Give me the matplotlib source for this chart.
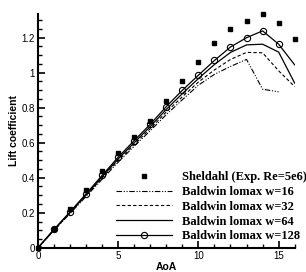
import matplotlib
matplotlib.use("Agg")
import matplotlib.pyplot as plt
from matplotlib.ticker import MultipleLocator, FuncFormatter

aoa = list(range(0, 17))
exp_cl = [0, 0.11, 0.22, 0.33, 0.44, 0.54, 0.63, 0.725, 0.836, 0.954, 1.063, 1.168,
          1.246, 1.294, 1.335, 1.284, 1.19]
bl128 = [0, 0.105, 0.205, 0.308, 0.413, 0.517, 0.612, 0.705, 0.806, 0.899, 0.985, 1.069,
         1.146, 1.199, 1.238, 1.162, 1.044]
bl64 = [0, 0.103, 0.202, 0.303, 0.405, 0.507, 0.600, 0.692, 0.790, 0.880, 0.966, 1.046,
        1.115, 1.158, 1.162, 1.117, 0.94]
bl32 = [0, 0.101, 0.199, 0.298, 0.398, 0.498, 0.590, 0.680, 0.775, 0.862, 0.946, 1.015,
        1.075, 1.115, 1.113, 1.01, 0.92]
aoa16 = list(range(0, 16))
bl16 = [0, 0.099, 0.196, 0.293, 0.391, 0.489, 0.580, 0.668, 0.760, 0.845, 0.928, 0.99,
        1.035, 1.075, 0.905, 0.89]

fig = plt.figure(figsize=(3.06, 2.72), dpi=100)
ax = fig.add_axes([0.124, 0.089, 0.839, 0.86])

ax.plot(aoa, exp_cl, 's', color='black', markersize=3, clip_on=False,
        label='Sheldahl (Exp. Re=5e6)')
ax.plot(aoa16, bl16, color='black', lw=0.8, dashes=[5, 1.5, 1, 1.5, 1, 1.5],
        label='Baldwin lomax w=16')
ax.plot(aoa, bl32, color='black', lw=0.8, dashes=[3, 2], label='Baldwin lomax w=32')
ax.plot(aoa, bl64, color='black', lw=0.9, label='Baldwin lomax w=64')
ax.plot(aoa, bl128, color='black', lw=0.9, marker='o', markersize=4.5,
        markerfacecolor='none', markeredgewidth=0.8, markevery=list(range(0, 16)),
        label='Baldwin lomax w=128')

ax.set_xlim(0, 16)
ax.set_ylim(0, 1.335)
ax.spines['top'].set_visible(False)
ax.spines['right'].set_visible(False)
ax.spines['left'].set_linewidth(1.5)
ax.spines['bottom'].set_linewidth(1.5)

ax.xaxis.set_major_locator(MultipleLocator(5))
ax.xaxis.set_minor_locator(MultipleLocator(1))
ax.yaxis.set_major_locator(MultipleLocator(0.2))
ax.yaxis.set_minor_locator(MultipleLocator(0.05))
ax.yaxis.set_major_formatter(FuncFormatter(lambda v, p: '%g' % round(v, 2)))
ax.tick_params(which='major', direction='in', length=5, width=1.2, labelsize=7, pad=2,
               labelfontfamily='Liberation Sans')
ax.tick_params(which='minor', direction='in', length=3, width=1)

ax.set_xlabel('AoA', fontsize=7.5, fontweight='bold', family='Liberation Sans', labelpad=1)
ax.set_ylabel('Lift coefficient', fontsize=7.5, fontweight='bold',
              family='Liberation Sans', labelpad=2)

leg = ax.legend(loc='lower left', bbox_to_anchor=(0.359, 0.086),
                bbox_transform=fig.transFigure, frameon=False, borderpad=0,
                handlelength=4.5, handletextpad=0.75, labelspacing=0.22,
                prop={'family': 'Liberation Serif', 'weight': 'bold', 'size': 9})

fig.savefig('out.png', dpi=100)
